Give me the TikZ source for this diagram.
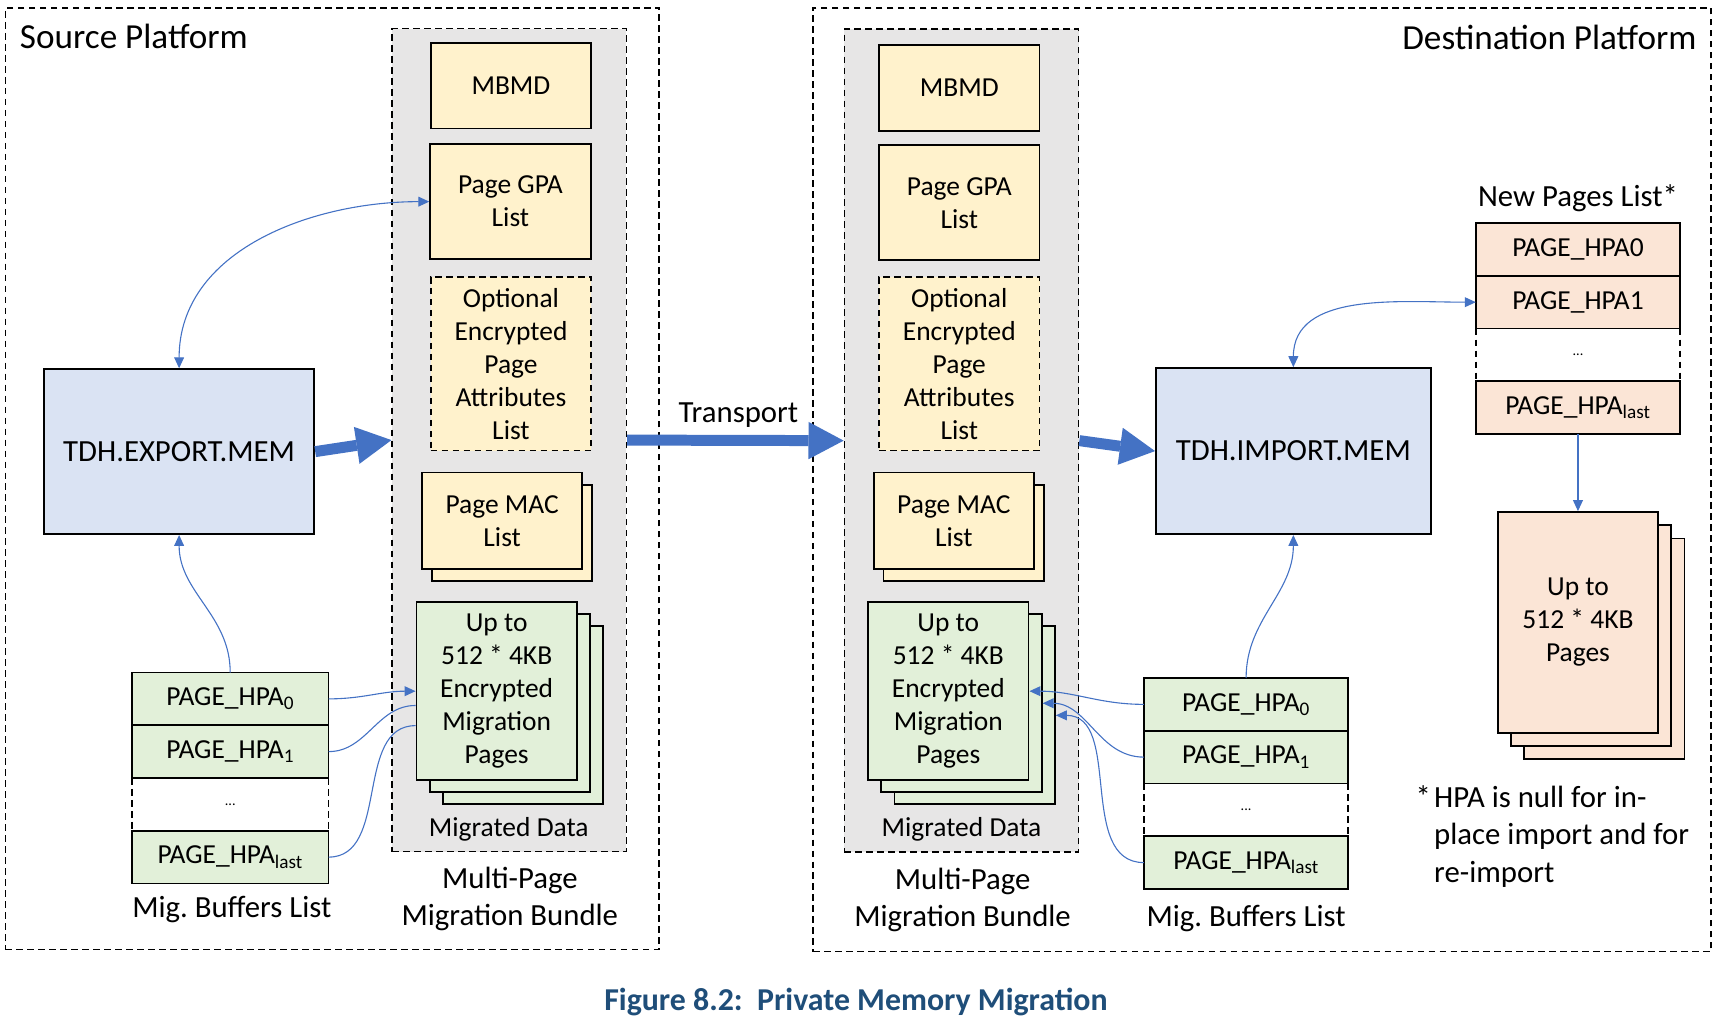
\documentclass[tikz,border=0pt]{standalone}
\usepackage{fontspec}
\setmainfont{Carlito}
\usetikzlibrary{positioning,arrows.meta}

\definecolor{bundlegray}{HTML}{E7E6E6}
\definecolor{metayellow}{HTML}{FFF2CC}
\definecolor{cmdblue}{HTML}{DAE3F3}
\definecolor{migreen}{HTML}{E2F0D9}
\definecolor{newpeach}{HTML}{FBE5D6}
\definecolor{linkblue}{HTML}{4472C4}
\definecolor{captionblue}{HTML}{1F4E79}

\newcommand{\boxfont}{\fontsize{25}{30}\selectfont}
\newcommand{\lblfont}{\fontsize{28}{34}\selectfont}
\newcommand{\ttlfont}{\fontsize{32}{38}\selectfont}
\newcommand{\dotfont}{\fontsize{13}{15}\selectfont}
\newcommand{\hpaname}[1]{PAGE\_HPA\textsubscript{#1}}

\begin{document}
\begin{tikzpicture}[x=1pt, y=-1pt, >={Triangle[length=10pt,width=9pt]}, font=\boxfont]
    \tikzstyle{frame}=[draw, line width=1.5pt, dash pattern=on 6pt off 4pt, inner sep=0pt]
    \tikzstyle{bundle}=[frame, fill=bundlegray, minimum width=213pt, minimum height=749pt]
    \tikzstyle{part}=[draw, line width=1.7pt, fill=metayellow, align=center,
      minimum width=146pt, inner sep=2pt]
    \tikzstyle{optpart}=[part, line width=1.5pt, dash pattern=on 6pt off 4pt]
    \tikzstyle{cmd}=[draw, line width=1.7pt, fill=cmdblue, font=\lblfont]
    \tikzstyle{page}=[draw, line width=1.7pt, fill=migreen, align=center,
      minimum width=146pt, minimum height=162pt]
    \tikzstyle{bigpg}=[page, fill=newpeach, minimum height=201pt]
    \tikzstyle{hpa}=[draw, line width=1.7pt, fill=migreen, minimum height=48pt,
      inner sep=0pt, outer sep=0pt]
    \tikzstyle{newpg}=[hpa, fill=newpeach, minimum width=186pt]
    \tikzstyle{dots}=[minimum height=48pt, inner sep=0pt, outer sep=0pt, font=\dotfont]
    \tikzstyle{dotside}=[line width=1.5pt, dash pattern=on 6pt off 4pt]
    \tikzstyle{lbl}=[font=\lblfont, align=center]
    \tikzstyle{link}=[draw=linkblue, line width=1pt]
    \tikzstyle{bigarrow}=[draw=linkblue, line width=10pt,
      -{Triangle[length=32pt,width=34pt,line width=0pt]}]

    \useasboundingbox (0,0) rectangle (1568,936);

    % platforms
    \node[frame, minimum width=595pt, minimum height=857pt] (src) at (302.5,435.5) {};
    \node[frame, minimum width=817pt, minimum height=859pt] (dst) at (1148.5,436.5) {};
    \node[anchor=west, inner sep=0pt, font=\ttlfont] (srcT) at (18,33) {Source Platform};
    \node[anchor=east, inner sep=0pt, font=\ttlfont] (dstT) at (1544,34) {Destination Platform};

    % source bundle
    \node[bundle] (bndS) at (463.5,400.5) {};
    \node[part, minimum height=78pt] (mbmdS) at (465,78) {MBMD};
    \node[part, minimum height=105pt] (gpaS) at (464.5,183.5) {Page GPA\\List};
    \node[optpart, minimum height=158pt] (attrS) at (465,331) {Optional\\Encrypted\\Page\\Attributes\\List};
    \node[part, minimum height=88pt] (macS2) at (466,485) {};
    \node[part, minimum height=88pt] (macS) at (457,474) {Page MAC\\List};
    \node[page] (pgS3) at (476,651) {};
    \node[page] (pgS2) at (464,640) {};
    \node[page] (pgS) at (452,629) {Up to\\512 * 4KB\\Encrypted\\Migration\\Pages};
    \node[lbl, font=\boxfont] (migS) at (463,755) {Migrated Data};
    \node[lbl] (mpbS) at (464,818) {Multi-Page\\Migration Bundle};

    \node[cmd, minimum width=246pt, minimum height=150pt] (expS) at (163,411) {TDH.EXPORT.MEM};

    % source buffers
    \node[hpa, minimum width=179pt] (hpa0S) at (209.5,636) {\hpaname{0}};
    \node[hpa, minimum width=179pt, below=0pt of hpa0S] (hpa1S) {\hpaname{1}};
    \node[dots, minimum width=179pt, below=0pt of hpa1S] (dotS) {...};
    \node[hpa, minimum width=179pt, below=0pt of dotS] (hpaLS) {\hpaname{last}};
    \draw[dotside] (dotS.north west) -- (dotS.south west) (dotS.north east) -- (dotS.south east);
    \node[lbl] (mbS) at (211,828) {Mig.\ Buffers List};

    \draw[link, <->] (expS.north) to[out=90, in=180] (gpaS.west);
    \draw[link, ->] (hpa0S.north) to[out=90, in=-90] (expS.south);
    \draw[link, ->] (hpa0S.east) to[out=0, in=180] (pgS.west);
    \draw[link] (hpa1S.east) to[out=0, in=180] (pgS.190);
    \draw[link] (hpaLS.east) to[out=0, in=180] (pgS.203);

    % destination bundle
    \node[bundle] (bndD) at (875,401) {};
    \node[part, minimum height=78pt] (mbmdD) at (873,80) {MBMD};
    \node[part, minimum height=105pt] (gpaD) at (873,184.5) {Page GPA\\List};
    \node[optpart, minimum height=158pt] (attrD) at (873,331) {Optional\\Encrypted\\Page\\Attributes\\List};
    \node[part, minimum height=88pt] (macD2) at (877,485) {};
    \node[part, minimum height=88pt] (macD) at (868,474) {Page MAC\\List};
    \node[page] (pgD3) at (887,651) {};
    \node[page] (pgD2) at (875,640) {};
    \node[page] (pgD) at (863,629) {Up to\\512 * 4KB\\Encrypted\\Migration\\Pages};
    \node[lbl, font=\boxfont] (migD) at (875,755) {Migrated Data};
    \node[lbl] (mpbD) at (876,819) {Multi-Page\\Migration Bundle};

    \node[cmd, minimum width=250pt, minimum height=151pt] (impD) at (1177,410.5) {TDH.IMPORT.MEM};

    % transport
    \draw[bigarrow] (expS.east) -- (bndS.west);
    \draw[bigarrow] (bndS.east) -- (bndD.west);
    \draw[bigarrow] (bndD.east) -- (impD.west);
    \node[lbl] (trT) at (672,378) {Transport};

    % destination buffers
    \node[hpa, minimum width=186pt] (hpa0D) at (1134,641) {\hpaname{0}};
    \node[hpa, minimum width=186pt, below=0pt of hpa0D] (hpa1D) {\hpaname{1}};
    \node[dots, minimum width=186pt, below=0pt of hpa1D] (dotD) {...};
    \node[hpa, minimum width=186pt, below=0pt of dotD] (hpaLD) {\hpaname{last}};
    \draw[dotside] (dotD.north west) -- (dotD.south west) (dotD.north east) -- (dotD.south east);
    \node[lbl] (mbD) at (1134,836) {Mig.\ Buffers List};

    \draw[link, ->] (hpa0D.north) to[out=90, in=-90] (impD.south);
    \draw[link, ->] (hpa0D.west) to[out=180, in=0] (pgD.east);
    \draw[link, ->] (hpa1D.west) to[out=180, in=0] (pgD2.east);
    \draw[link, ->] (hpaLD.west) to[out=180, in=0] (pgD3.east);

    % new pages
    \node[lbl] (npT) at (1436,180) {New Pages List*};
    \node[newpg] (np0) at (1436,227) {PAGE\_HPA0};
    \node[newpg, below=0pt of np0] (np1) {PAGE\_HPA1};
    \node[dots, minimum width=186pt, below=0pt of np1] (npD) {...};
    \node[newpg, below=0pt of npD] (npL) {\hpaname{last}};
    \draw[dotside] (npD.north west) -- (npD.south west) (npD.north east) -- (npD.south east);
    \node[bigpg] (bpg3) at (1460,590.5) {};
    \node[bigpg] (bpg2) at (1448,578.5) {};
    \node[bigpg] (bpg) at (1436,566.5) {Up to\\512 * 4KB\\Pages};

    \draw[link, <->] (impD.north) to[out=90, in=180] (np1.west);
    \draw[link, ->] (npL.south) -- (bpg.north);

    \node[lbl, anchor=west, align=left, inner sep=0pt] (note) at (1305,761)
      {\llap{*\hspace{3pt}}HPA is null for in-\\place import and for\\re-import};

    % caption
    \node[font=\fontsize{29}{35}\selectfont\bfseries, text=captionblue] (cap) at (779,912)
      {Figure 8.2:\ \ Private Memory Migration};
\end{tikzpicture}
\end{document}
